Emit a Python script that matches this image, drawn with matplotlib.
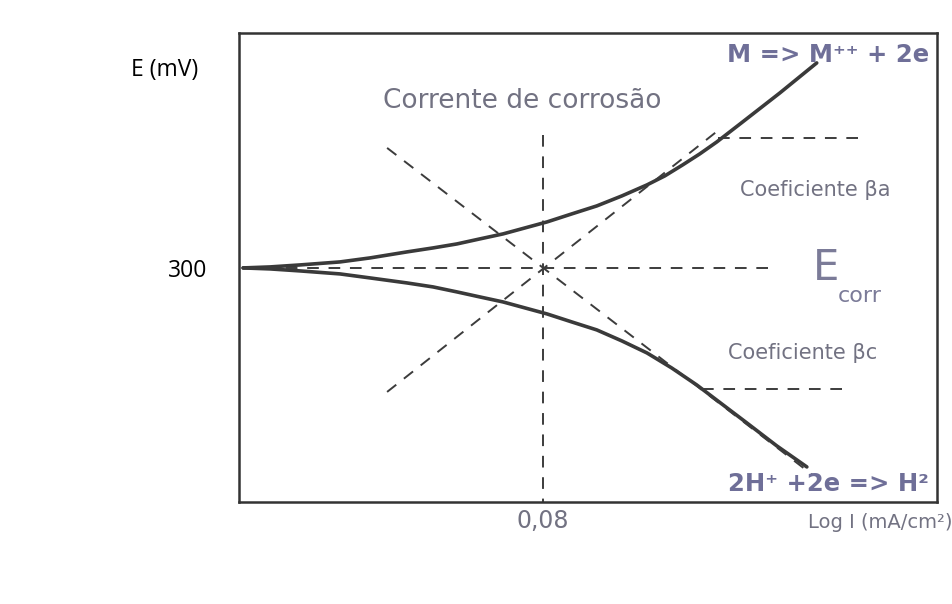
import matplotlib.pyplot as plt

# log I (schematic units) and E (mV)
x_anodic = [0.0011, 0.0082, 0.0161, 0.0266, 0.0345, 0.0442, 0.0511, 0.0574,
            0.0634, 0.0695, 0.0753, 0.0811, 0.0876, 0.0942, 0.1008, 0.1074,
            0.1121, 0.1168, 0.1213, 0.1258, 0.1326, 0.1424, 0.1521]
e_anodic = [300, 301, 303, 306, 310, 316, 320, 324, 329, 334, 340, 346, 354,
            362, 372, 383, 392, 403, 414, 426, 446, 475, 505]
x_cathodic = [0.0011, 0.0082, 0.0161, 0.0266, 0.0345, 0.0442, 0.0511, 0.0574,
              0.0634, 0.0695, 0.0753, 0.0811, 0.0876, 0.0942, 0.1008, 0.1074,
              0.1139, 0.1205, 0.1271, 0.1337, 0.1416, 0.1495]
e_cathodic = [300, 299, 297, 294, 290, 285, 281, 276, 271, 266, 260, 254, 246,
              238, 227, 215, 200, 183, 164, 145, 122, 101]

# Tafel extrapolations
tafel_a_x = [0.039, 0.127]
tafel_a_e = [176, 440]
tafel_c_x = [0.039, 0.151]
tafel_c_e = [420, 93]

i_corr = 0.08
e_corr = 300
beta_a_x = [0.126, 0.163]
beta_a_e = 430
beta_c_x = [0.122, 0.160]
beta_c_e = 179

fig = plt.figure(figsize=(9.52, 6.04), dpi=100)
ax = fig.add_axes([0.251, 0.169, 0.733, 0.7765])

curve_col = '#3a3a3a'
dash_col = '#3c3c3c'
txt_col = '#727282'
blue_col = '#6f6f98'

ax.plot(x_anodic, e_anodic, color=curve_col, lw=2.6, solid_capstyle='round',
        solid_joinstyle='round')
ax.plot(x_cathodic, e_cathodic, color=curve_col, lw=2.6, solid_capstyle='round',
        solid_joinstyle='round')

ds = dict(color=dash_col, lw=1.4, dashes=(6, 5))
ax.plot(tafel_a_x, tafel_a_e, **ds)
ax.plot(tafel_c_x, tafel_c_e, **ds)
ax.plot([i_corr, i_corr], [433, 66], **ds)
ax.plot([0.001, 0.1397], [e_corr, e_corr], **ds)
ax.plot(beta_a_x, [beta_a_e, beta_a_e], **ds)
ax.plot(beta_c_x, [beta_c_e, beta_c_e], **ds)

ax.set_xlim(0, 0.1837)
ax.set_ylim(66, 535)

for s in ax.spines.values():
    s.set_linewidth(1.8)
    s.set_color('#333333')

ax.set_xticks([i_corr])
ax.set_xticklabels(['0,08'], color=txt_col, fontsize=17)
ax.set_yticks([e_corr])
ax.set_yticklabels(['300'], color='black', fontsize=16.5, family='Open Sans')
ax.tick_params(length=0)
ax.tick_params(axis='x', pad=5)
ax.tick_params(axis='y', pad=23)

ax.text(0.038, 467, 'Corrente de corrosão', color=txt_col, fontsize=19, va='center')
ax.text(0.1816, 513, 'M => M⁺⁺ + 2e', color=blue_col, fontsize=17.5,
        fontweight='bold', ha='right', va='center')
ax.text(0.1318, 378, 'Coeficiente βa', color=txt_col, fontsize=15, va='center')
ax.text(0.1287, 215, 'Coeficiente βc', color=txt_col, fontsize=15, va='center')
ax.text(0.1511, 300, 'E', color='#7b7b98', fontsize=30, va='center')
ax.text(0.1577, 272, 'corr', color='#7b7b98', fontsize=16, va='center')
ax.text(0.1816, 84, '2H⁺ +2e => H²', color=blue_col, fontsize=17.5,
        fontweight='bold', ha='right', va='center')

fig.text(165 / 952, 1 - 70 / 604, 'E (mV)', fontsize=16.5, family='Open Sans',
         ha='center', va='center')
fig.text(1.0, 1 - 522 / 604, 'Log I (mA/cm²)', color=txt_col, fontsize=14,
         ha='right', va='center')

fig.savefig('out.png', dpi=100)
